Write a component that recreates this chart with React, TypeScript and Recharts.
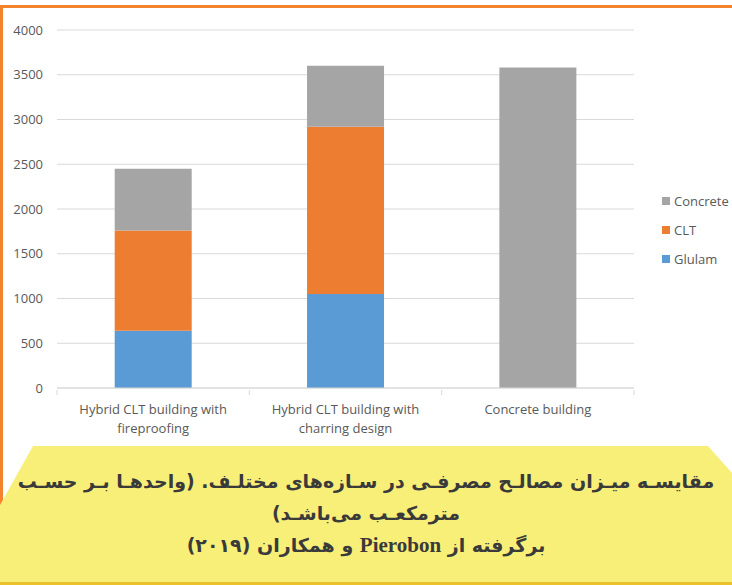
import React from "react";
import { BarChart, Bar, XAxis, YAxis, CartesianGrid } from "recharts";

const categories = [
  ["Hybrid CLT building with", "fireproofing"],
  ["Hybrid CLT building with", "charring design"],
  ["Concrete building"],
];
const glulam = [640, 1050, 0];
const clt = [1120, 1870, 0];
const concrete = [690, 680, 3580];
const yTicks = [0, 500, 1000, 1500, 2000, 2500, 3000, 3500, 4000];

const seriesNames = ["Glulam", "CLT", "Concrete"];
const seriesColors = ["#5b9bd5", "#ed7d31", "#a5a5a5"];

const captionLines = [
  "مقایسـه میـزان مصالـح مصرفـی در سـازه‌های مختلـف. (واحدهـا بـر حسـب",
  "مترمکعـب  می‌باشـد)",
];
const captionLine3Parts = ["برگرفته از ", "Pierobon", " و همکاران (۲۰۱۹)"];

const data = categories.map((c, i) => ({
  name: c.join("|"),
  Glulam: glulam[i],
  CLT: clt[i],
  Concrete: concrete[i],
}));

const CHART_W = 732;
const CHART_H = 440;
const MARGIN = { top: 30, right: 98, left: 0, bottom: 7 };
const Y_W = 57;
const PLOT_W = CHART_W - MARGIN.left - MARGIN.right - Y_W;
const HALF_BAND = PLOT_W / categories.length / 2;
const TEXT = "#595959";
const FONT = "'Open Sans', sans-serif";

const XTick = (props: any) => {
  const { x, y, payload, index } = props;
  const lines = String(payload.value).split("|");
  return (
    <g>
      <line x1={x - HALF_BAND} x2={x - HALF_BAND} y1={y} y2={y + 5} stroke="#d9d9d9" />
      {index === categories.length - 1 && (
        <line x1={x + HALF_BAND} x2={x + HALF_BAND} y1={y} y2={y + 5} stroke="#d9d9d9" />
      )}
      <text x={x} y={y} textAnchor="middle" fill={TEXT} fontSize={13} fontFamily={FONT}>
        {lines.map((l, i) => (
          <tspan key={i} x={x} dy={i === 0 ? 24 : 19}>
            {l}
          </tspan>
        ))}
      </text>
    </g>
  );
};

const LegendBlock = () => (
  <div style={{ position: "absolute", left: 662, top: 186, fontFamily: FONT, fontSize: 13, color: TEXT }}>
    {[2, 1, 0].map((i) => (
      <div key={i} style={{ display: "flex", alignItems: "center", height: 29 }}>
        <span
          style={{ display: "inline-block", width: 8, height: 8, background: seriesColors[i], marginRight: 4 }}
        />
        <span>{seriesNames[i]}</span>
      </div>
    ))}
  </div>
);

export default function App() {
  return (
    <div style={{ position: "absolute", left: 0, top: 0, width: 732, height: 585, background: "#fff", overflow: "hidden" }}>
      {/* orange frame */}
      <div style={{ position: "absolute", left: 0, top: 5, width: 732, height: 3, background: "#f5832e" }} />
      <div style={{ position: "absolute", left: 0, top: 5, width: 3, height: 500, background: "#f5832e" }} />
      <div style={{ position: "absolute", left: 0, top: 0 }}>
        <BarChart width={CHART_W} height={CHART_H} data={data} margin={MARGIN} barCategoryGap="30%">
          <CartesianGrid vertical={false} stroke="#d9d9d9" />
          <XAxis
            dataKey="name"
            tick={<XTick />}
            tickLine={false}
            axisLine={{ stroke: "#d9d9d9" }}
            height={45}
            interval={0}
            tickSize={0}
          />
          <YAxis
            width={Y_W}
            domain={[0, 4000]}
            ticks={yTicks}
            axisLine={false}
            tickLine={false}
            tickMargin={8}
            tick={{ fill: TEXT, fontSize: 13, fontFamily: FONT }}
          />
          {seriesNames.map((s, i) => (
            <Bar key={s} dataKey={s} stackId="a" fill={seriesColors[i]} isAnimationActive={false} />
          ))}
        </BarChart>
      </div>
      <LegendBlock />
      {/* yellow caption box */}
      <div
        style={{
          position: "absolute",
          left: 0,
          top: 446,
          width: 732,
          height: 139,
          background: "#f8ef78",
          clipPath: "polygon(33px 0, 708px 0, 732px 27px, 732px 139px, 0 139px, 0 59px)",
        }}
      />
      <div style={{ position: "absolute", left: 0, top: 582, width: 732, height: 3, background: "#ebc22c" }} />
      <div
        dir="rtl"
        style={{
          position: "absolute",
          left: 0,
          top: 465,
          width: 732,
          textAlign: "center",
          fontFamily: "'DejaVu Sans', sans-serif",
          fontWeight: "bold",
          fontSize: 19,
          color: "#3a3a3a",
          lineHeight: "32px",
          whiteSpace: "nowrap",
        }}
      >
        <div>{captionLines[0]}</div>
        <div>{captionLines[1]}</div>
        <div>
          {captionLine3Parts[0]}
          <span style={{ fontFamily: "'Liberation Serif', serif", fontSize: 21 }}>{captionLine3Parts[1]}</span>
          {captionLine3Parts[2]}
        </div>
      </div>
    </div>
  );
}
